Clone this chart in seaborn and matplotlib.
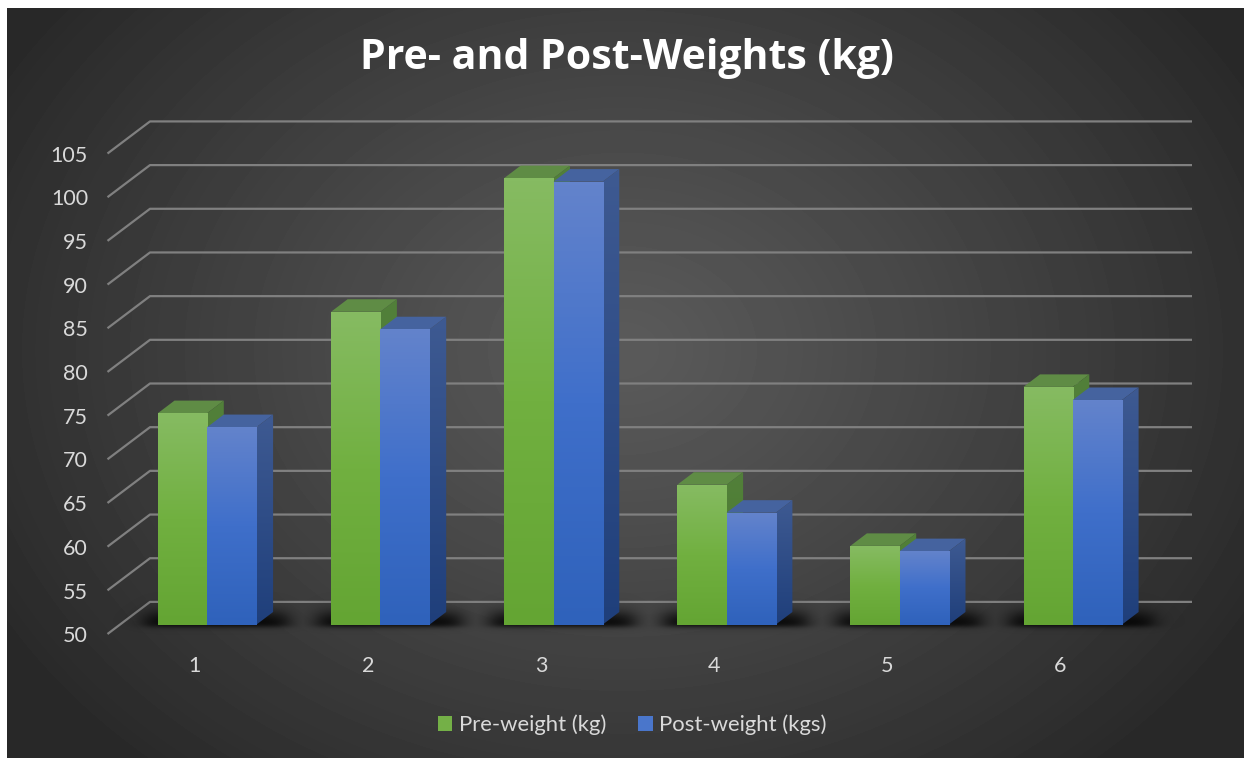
import numpy as np
import pandas as pd
import matplotlib
matplotlib.use("Agg")
import matplotlib.pyplot as plt
from matplotlib.patches import Polygon
import seaborn as sns

# Subject weights before and after, in kilograms
subjects = ["1", "2", "3", "4", "5", "6"]
pre_weight = [74.2, 85.8, 101.1, 66.0, 59.0, 77.2]
post_weight = [72.6, 83.8, 100.7, 62.8, 58.4, 75.7]
weight_ticks = list(range(50, 110, 5))
series_names = ["Pre-weight (kg)", "Post-weight (kgs)"]

W, H = 1244, 758
PX_PER_CAT = 173.1
PX_PER_KG = 8.736
X0_PX, BASE_PX = 207.3, 624.5

sns.set_theme(style="white")
plt.rcParams["font.family"] = ["Lato", "DejaVu Sans"]

fig = plt.figure(figsize=(W / 100, H / 100), dpi=100, facecolor="white")

# Radial charcoal backdrop, inset slightly from the top and left edges
bg = fig.add_axes([7 / W, 0, (W - 7) / W, (H - 8) / H])
bg.set_axis_off()
yy, xx = np.mgrid[8:H, 7:W]
r = np.hypot((xx - 622) / 720, (yy - 350) / 560)
shade = np.clip(0.355 - 0.195 * np.clip(r, 0, 1) ** 1.1, 0, 1)
bg.imshow(shade, cmap="gray", vmin=0, vmax=1, aspect="auto", interpolation="bilinear")

ax = fig.add_axes([0, 0, 1, 1], facecolor="none")
table = pd.DataFrame({
    "subject": subjects * 2,
    "weight": pre_weight + post_weight,
    "series": [series_names[0]] * 6 + [series_names[1]] * 6,
})
sns.barplot(data=table, x="subject", y="weight", hue="series", order=subjects,
            hue_order=series_names, palette=["#70ad47", "#4472c4"],
            width=98.6 / PX_PER_CAT, saturation=1, ax=ax, legend=True, zorder=5)

xlim = ((0 - X0_PX) / PX_PER_CAT, (W - X0_PX) / PX_PER_CAT)
ylim = (50 - (H - BASE_PX) / PX_PER_KG, 50 + BASE_PX / PX_PER_KG)
ax.set_xlim(xlim)
ax.set_ylim(ylim)
ax.set_axis_off()

# Extrusion of the boxes and the floor, expressed in data units
DX = 16.5 / PX_PER_CAT
DY = 12.5 / PX_PER_KG
wall_left, wall_right = (150 - X0_PX) / PX_PER_CAT, (1192 - X0_PX) / PX_PER_CAT
front_left = (107.5 - X0_PX) / PX_PER_CAT
wall_rise, front_drop = 22.6 / PX_PER_KG, 9.5 / PX_PER_KG

# Receding gridlines along the wall and the left-hand side
grid_color = "#808080"
for v in weight_ticks:
    ax.plot([front_left, wall_left, wall_right],
            [v - front_drop, v + wall_rise, v + wall_rise],
            color=grid_color, lw=1.6, zorder=1, solid_capstyle="butt")
    ax.text((88 - X0_PX) / PX_PER_CAT, v - front_drop - 2.2 / PX_PER_KG, str(v),
            ha="right", va="center", color="#d9d9d9", fontsize=15.5)

for i, s in enumerate(subjects):
    ax.text(i - 12.5 / PX_PER_CAT, 50 - 41.5 / PX_PER_KG, s, ha="center", va="center",
            color="#d9d9d9", fontsize=15.5)

# Soft floor shadow behind each pair of boxes
gy, gx = np.mgrid[0:H, 0:W]
alpha = np.zeros((H, W))
for i in range(len(subjects)):
    left = X0_PX + PX_PER_CAT * i - 63
    right = X0_PX + PX_PER_CAT * i + 80
    horizontal = 1 / (1 + np.exp((left - gx) / 6)) * 1 / (1 + np.exp((gx - right) / 6))
    vertical = 1 / (1 + np.exp((613 - gy) / 4)) * 1 / (1 + np.exp((gy - 626) / 1.5))
    alpha = np.maximum(alpha, horizontal * vertical * 0.95)
rgba = np.zeros((H, W, 4))
rgba[..., 3] = alpha
ax.imshow(rgba, extent=(*xlim, *ylim), origin="upper", aspect="auto", zorder=2)


def fade(colors):
    return matplotlib.colors.LinearSegmentedColormap.from_list("fade", colors)


front_maps = [fade(["#86bb62", "#71b040", "#64a533"]), fade(["#6383cc", "#3f6fca", "#2f62bb"])]
side_maps = [fade(["#52803a", "#4a7a2c"]), fade(["#3e5a92", "#1f3f7b"])]
top_colors = ["#5f8c45", "#45639f"]
ramp = np.linspace(0, 1, 128).reshape(-1, 1)

# Seaborn also registers empty patches for the legend; keep the real boxes only
bars = [p for p in ax.patches if p.get_height() > 1 and p.get_width() > 0][:2 * len(subjects)]
for p in list(ax.patches):
    p.set_visible(False)

for k, bar in enumerate(bars):
    series = k // len(subjects)
    z = 3 + series
    x0, x1 = bar.get_x(), bar.get_x() + bar.get_width()
    y1 = bar.get_height()
    top = Polygon([(x0, y1), (x0 + DX, y1 + DY), (x1 + DX, y1 + DY), (x1, y1)],
                  closed=True, fc=top_colors[series], ec="none", zorder=z)
    ax.add_patch(top)
    side = Polygon([(x1, y1), (x1 + DX, y1 + DY), (x1 + DX, 50 + DY), (x1, 50)],
                   closed=True, fc="none", ec="none", zorder=z)
    ax.add_patch(side)
    im = ax.imshow(ramp, cmap=side_maps[series], extent=(x1, x1 + DX, 50, y1 + DY),
                   origin="upper", aspect="auto", zorder=z)
    im.set_clip_path(side)
    ax.imshow(ramp, cmap=front_maps[series], extent=(x0, x1, 50, y1),
              origin="upper", aspect="auto", zorder=z + 0.5)

ax.set_xlim(xlim)
ax.set_ylim(ylim)

ax.text((627 - X0_PX) / PX_PER_CAT, 50 + (BASE_PX - 58.5) / PX_PER_KG,
        "Pre- and Post-Weights (kg)", ha="center", va="center",
        color="white", fontsize=29.5, fontweight="bold", family="Open Sans")

handles = ax.get_legend().legend_handles
for h, color in zip(handles, ["#74b047", "#4a76cb"]):
    h.set_visible(True)
    h.set_facecolor(color)
    h.set_edgecolor("none")
    h.set_linewidth(0)
ax.get_legend().remove()
ax.legend(handles, series_names, ncol=2, frameon=False, loc="center",
          bbox_to_anchor=(632.5 / W, 1 - 725 / H), bbox_transform=fig.transFigure,
          fontsize=15.9, labelcolor="#d9d9d9", handlelength=0.64, handleheight=0.7,
          handletextpad=0.3, columnspacing=1.45, borderpad=0)

fig.savefig("out.png", dpi=100, facecolor="white")
